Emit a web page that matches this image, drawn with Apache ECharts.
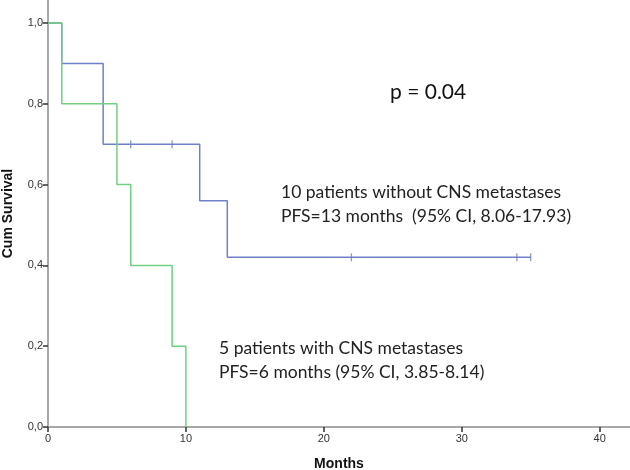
<!DOCTYPE html>
<html><head><meta charset="utf-8">
<script src="https://cdn.jsdelivr.net/npm/echarts@6/dist/echarts.min.js"></script>
<style>html,body{margin:0;padding:0;background:#fff}#c{width:630px;height:470px}</style>
</head><body><div id="c"></div>
<script>
// Kaplan-Meier step data [months, cumulative survival]
const noCnsSteps = [[0,1.0],[1,0.9],[4,0.7],[11,0.56],[13,0.42],[35,0.42]];
const noCnsCensored = [[6,0.7],[9,0.7],[22,0.42],[34,0.42],[35,0.42]];
const cnsSteps = [[0,1.0],[1,0.8],[5,0.6],[6,0.4],[9,0.2],[10,0.0]];
const xTicks = [0,10,20,30,40];
const yTicks = [0,0.2,0.4,0.6,0.8,1.0];
const pText = 'p = 0.04';
const noCnsText = ['10 patients without CNS metastases','PFS=13 months  (95% CI, 8.06-17.93)'];
const cnsText = ['5 patients with CNS metastases','PFS=6 months (95% CI, 3.85-8.14)'];

const chart = echarts.init(document.getElementById('c'));
const axisColor = '#8c8c8c';
const txtFont = 'Lato, "Open Sans", sans-serif';
chart.setOption({
  animation:false,
  grid:{left:48,right:0,top:0,bottom:43,outerBoundsMode:'none',containLabel:false},
  xAxis:{type:'value',min:0,max:42.2,
    name:'Months',nameLocation:'middle',nameGap:30,
    nameTextStyle:{fontWeight:'bold',fontSize:14,color:'#111',fontFamily:'Liberation Sans, Arial'},
    axisLine:{show:true,onZero:false,lineStyle:{color:axisColor,width:1.5}},
    axisTick:{show:true,length:5,customValues:xTicks,lineStyle:{color:'#333',width:1.5}},
    axisLabel:{customValues:xTicks,fontSize:11,color:'#333',margin:6,fontFamily:'Liberation Sans, Arial'},
    splitLine:{show:false}},
  yAxis:{type:'value',min:0,max:1.057,
    name:'Cum Survival',nameLocation:'middle',nameGap:33,
    nameTextStyle:{fontWeight:'bold',fontSize:14,color:'#111',fontFamily:'Liberation Sans, Arial'},
    axisLine:{show:true,lineStyle:{color:axisColor,width:1.5}},
    axisTick:{show:true,length:5,customValues:yTicks,lineStyle:{color:'#333',width:1.5}},
    axisLabel:{customValues:yTicks,fontSize:11,color:'#333',margin:5,fontFamily:'Liberation Sans, Arial',
      formatter:v=>v.toFixed(1).replace('.',',')},
    splitLine:{show:false}},
  series:[
    {type:'line',step:'end',data:noCnsSteps,symbol:'none',lineStyle:{color:'#6f80c9',width:1.5},z:2},
    {type:'scatter',data:noCnsCensored,symbol:'rect',symbolSize:[1.3,8],itemStyle:{color:'#6f80c9'},z:3},
    {type:'line',step:'end',data:cnsSteps,symbol:'none',lineStyle:{color:'#6fd07f',width:1.5},z:4}
  ],
  graphic:[
    {type:'text',left:390,top:82,style:{text:pText,font:'21px '+txtFont,fill:'#111'}},
    {type:'text',left:281,top:180,style:{text:noCnsText.join('\n'),font:'17.5px '+txtFont,lineHeight:24,fill:'#222'}},
    {type:'text',left:219,top:336,style:{text:cnsText.join('\n'),font:'17.5px '+txtFont,lineHeight:24,fill:'#222'}}
  ]
});
</script></body></html>
